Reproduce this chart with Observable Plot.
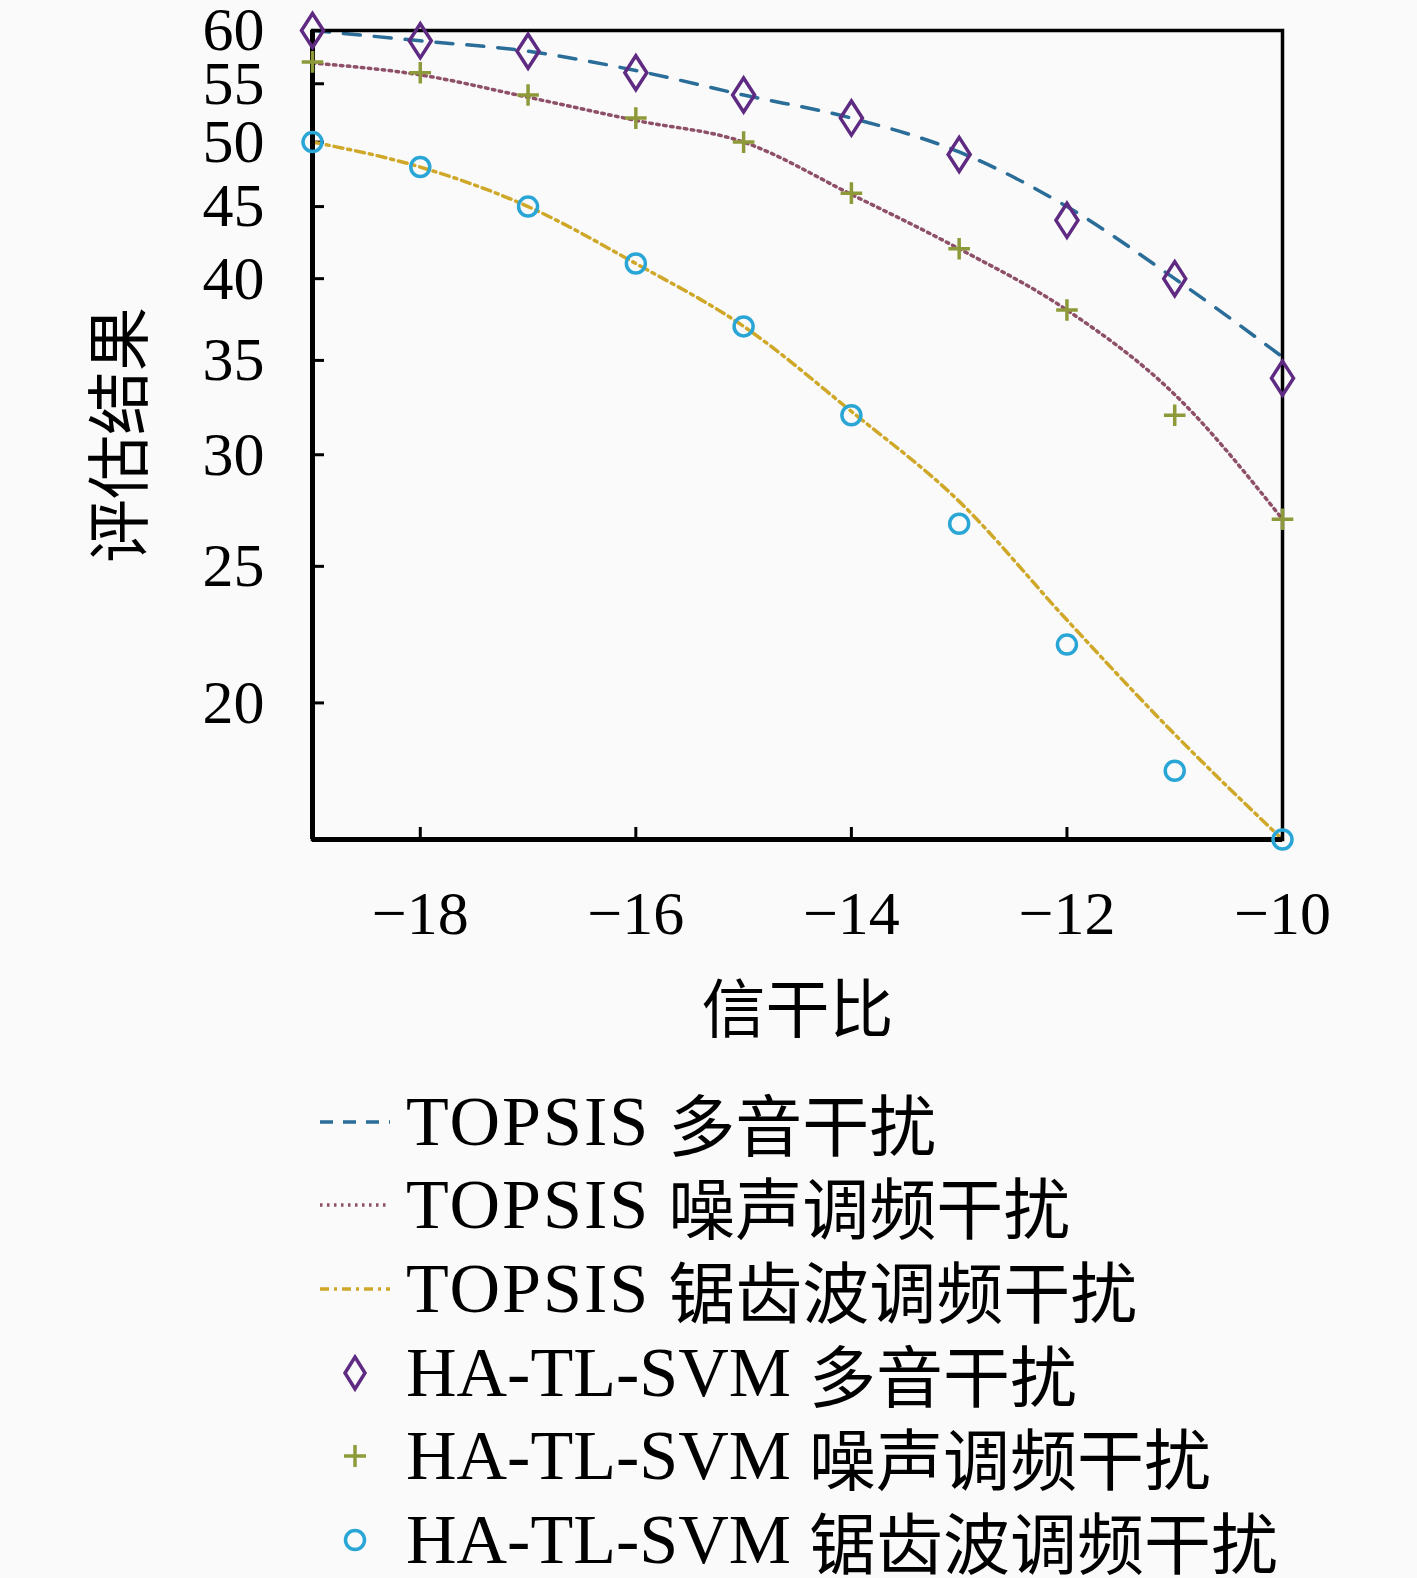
<!DOCTYPE html>
<html><head><meta charset="utf-8">
<script src="https://cdn.jsdelivr.net/npm/d3@7"></script>
<script src="https://cdn.jsdelivr.net/npm/@observablehq/plot@0.6"></script>
<style>
html,body{margin:0;padding:0;background:#fafafa;overflow:hidden;}
#chart svg{display:block;max-width:none;}
#legend{margin-top:15px;font-family:"Liberation Serif","Noto Sans CJK SC",serif;font-size:70px;color:#000;}
.row{height:83.6px;display:flex;align-items:center;}
.row svg{margin-left:316px;width:78px;height:44px;flex:none;overflow:visible;}
.row span.t{margin-left:12px;white-space:nowrap;line-height:1;display:inline-block;height:70px;}
.row span.m1,.row span.m2{display:inline-block;line-height:70px;height:70px;vertical-align:top;}
.row span.m1{letter-spacing:2px;}
.row span.zh{font-family:"Noto Sans CJK SC",sans-serif;font-size:67px;display:inline-block;line-height:70px;height:70px;vertical-align:top;margin-left:18px;}
</style></head><body>
<div id="chart"></div><div id="legend"></div>
<script>
// ---- data ----
const snr = [-19, -18, -17, -16, -15, -14, -13, -12, -11, -10];
const topsisMultiTone   = [60, 59, 58, 56.2, 54, 52, 49.2, 45, 40, 35.2];
const topsisNoiseFM     = [56.9, 55.8, 53.8, 51.8, 50, 45.9, 42, 38, 33.1, 27];
const topsisSawtoothFM  = [50, 48, 45, 41, 37, 32.2, 27.8, 22.9, 19.0, 16];
const hatlMultiTone     = [60, 59, 58, 56, 54, 52, 49, 44, 40, 34];
const hatlNoiseFM       = [57, 56, 54, 52, 50, 46, 42, 38, 32, 27];
const hatlSawtoothFM    = [50, 48, 45, 41, 37, 32, 26.8, 22, 17.9, 16];
const xTicks = [-18, -16, -14, -12, -10];
const yTicks = [20, 25, 30, 35, 40, 45, 50, 55, 60];
const xLabel = "信干比";
const yLabel = "评估结果";
const legendMethods = ["TOPSIS", "TOPSIS", "TOPSIS", "HA-TL-SVM", "HA-TL-SVM", "HA-TL-SVM"];
const legendJamming = ["多音干扰", "噪声调频干扰", "锯齿波调频干扰", "多音干扰", "噪声调频干扰", "锯齿波调频干扰"];

// ---- styles ----
const cDash = "#2a6d98", cDot = "#8e5068", cDashDot = "#cfa82a";
const cDiamond = "#5e2a82", cPlus = "#8e9a3a", cCircle = "#2aa6d6";
const font = '"Liberation Serif","Noto Sans CJK SC",serif';
const tallDiamond = {draw(ctx, size) {
  const r = Math.sqrt(size / Math.PI);
  ctx.moveTo(0, -1.55 * r); ctx.lineTo(r, 0); ctx.lineTo(0, 1.55 * r); ctx.lineTo(-r, 0); ctx.closePath();
}};
const toRows = arr => snr.map((x, i) => ({x, y: arr[i]}));

const W = 1417, H = 1065, ml = 312, mr = 135, mt = 30, mb = H - 839;
const fw = W - ml - mr, fh = H - mt - mb;
const fmt = d => d < 0 ? "\u2212" + Math.abs(d) : String(d);

const chart = Plot.plot({
  width: W, height: H, marginLeft: ml, marginRight: mr, marginTop: mt, marginBottom: mb,
  style: {background: "#fafafa", fontFamily: font, fontSize: "62px", color: "#000", overflow: "visible"},
  x: {domain: [-19, -10]},
  y: {type: "log", domain: [16, 60]},
  marks: [
    Plot.axisX(xTicks, {tickSize: 0, tickPadding: 50, tickFormat: fmt, fontSize: 62, label: null}),
    Plot.axisY(yTicks, {tickSize: 0, tickPadding: 48, tickFormat: d => String(d), fontSize: 62, label: null}),
    Plot.tickX(xTicks, {x: d => d, insetTop: fh - 12, stroke: "#000", strokeWidth: 3}),
    Plot.tickY(yTicks, {y: d => d, insetRight: fw - 12, stroke: "#000", strokeWidth: 3}),
    Plot.line(toRows(topsisMultiTone), {x: "x", y: "y", stroke: cDash, strokeWidth: 3.5, strokeDasharray: "17 14", curve: "monotone-x"}),
    Plot.line(toRows(topsisNoiseFM), {x: "x", y: "y", stroke: cDot, strokeWidth: 3.5, strokeDasharray: "2.5 4.5", curve: "monotone-x"}),
    Plot.line(toRows(topsisSawtoothFM), {x: "x", y: "y", stroke: cDashDot, strokeWidth: 3.5, strokeDasharray: "9 5 3 5", curve: "monotone-x"}),
    Plot.frame({stroke: "#000", strokeWidth: 3.5}),
    Plot.ruleX([-19], {stroke: "#000", strokeWidth: 5}),
    Plot.ruleY([16], {stroke: "#000", strokeWidth: 5}),
    Plot.dot(toRows(hatlMultiTone), {x: "x", y: "y", symbol: tallDiamond, r: 11, stroke: cDiamond, strokeWidth: 3.5, fill: "none"}),
    Plot.dot(toRows(hatlNoiseFM), {x: "x", y: "y", symbol: "plus", r: 7, stroke: cPlus, strokeWidth: 3.5}),
    Plot.dot(toRows(hatlSawtoothFM), {x: "x", y: "y", symbol: "circle", r: 9.5, stroke: cCircle, strokeWidth: 3.5, fill: "none"}),
    Plot.text([xLabel], {text: d => d, frameAnchor: "bottom", dy: 172, textAnchor: "middle", lineAnchor: "middle", fontSize: 64, fill: "#000"}),
    Plot.text([yLabel], {text: d => d, frameAnchor: "left", dx: -191, rotate: -90, textAnchor: "middle", lineAnchor: "middle", fontSize: 64, fill: "#000"})
  ]
});
document.getElementById("chart").append(chart);

// ---- legend ----
const samples = [
  `<line x1="4" x2="74" y1="22" y2="22" stroke="${cDash}" stroke-width="3.5" stroke-dasharray="13 10"/>`,
  `<line x1="4" x2="74" y1="22" y2="22" stroke="${cDot}" stroke-width="3.5" stroke-dasharray="2.5 4.5"/>`,
  `<line x1="4" x2="74" y1="22" y2="22" stroke="${cDashDot}" stroke-width="3.5" stroke-dasharray="9 5 3 5"/>`,
  `<path d="M39,6 L49,22 L39,38 L29,22 Z" fill="none" stroke="${cDiamond}" stroke-width="3.5"/>`,
  `<path d="M39,11 V33 M28,22 H50" stroke="${cPlus}" stroke-width="3.5"/>`,
  `<circle cx="39" cy="22" r="9.5" fill="none" stroke="${cCircle}" stroke-width="3.5"/>`
];
const leg = document.getElementById("legend");
legendMethods.forEach((m, i) => {
  const row = document.createElement("div");
  row.className = "row";
  const cls = m === "TOPSIS" ? "m1" : "m2";
  row.innerHTML = `<svg viewBox="0 0 78 44">${samples[i]}</svg><span class="t"><span class="${cls}">${m}</span><span class="zh">${legendJamming[i]}</span></span>`;
  leg.append(row);
});
</script>
</body></html>
